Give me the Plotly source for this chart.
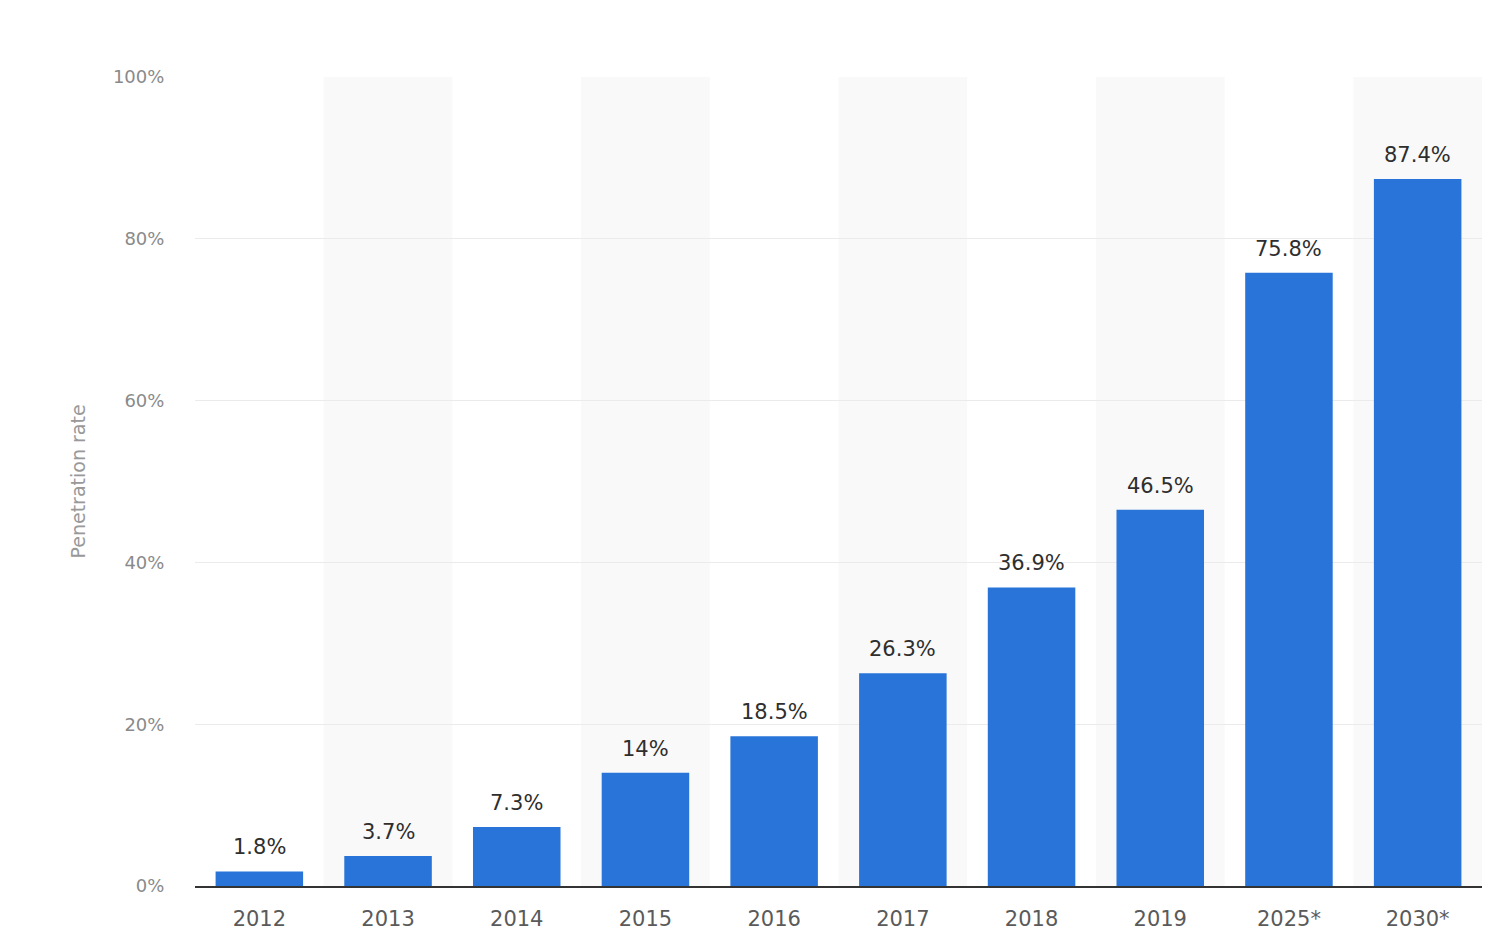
import plotly.graph_objects as go

years = ["2012", "2013", "2014", "2015", "2016", "2017", "2018", "2019", "2025*", "2030*"]
penetration = [1.8, 3.7, 7.3, 14, 18.5, 26.3, 36.9, 46.5, 75.8, 87.4]
y_ticks = [0, 20, 40, 60, 80, 100]
y_title = "Penetration rate"

FONT = "DejaVu Sans"
BAR = "#2874d8"

pos = list(range(len(years)))
labels = [f"{v:g}%" for v in penetration]

fig = go.Figure()
fig.add_trace(go.Bar(
    x=pos, y=penetration,
    width=0.68,
    marker=dict(color=BAR, line=dict(width=0)),
    hovertext=years, hoverinfo="text+y",
))

# alternating background bands
shapes = []
for i in pos:
    if i % 2 == 1:
        shapes.append(dict(type="rect", xref="x", yref="paper",
                           x0=i - 0.5, x1=i + 0.5, y0=0, y1=1,
                           fillcolor="#f9f9f9", line=dict(width=0), layer="below"))

annotations = []
for i, v, t in zip(pos, penetration, labels):
    annotations.append(dict(x=i, y=v, xref="x", yref="y",
                            text=t, showarrow=False,
                            yanchor="bottom", yshift=10,
                            font=dict(family=FONT, size=21, color="#2e2e2e")))

fig.update_layout(
    width=1500, height=949,
    margin=dict(l=187, r=26, t=69, b=71),
    paper_bgcolor="white", plot_bgcolor="white",
    showlegend=False,
    shapes=shapes,
    annotations=annotations,
    font=dict(family=FONT),
)
fig.update_xaxes(
    range=[-0.5, len(years) - 0.5],
    tickmode="array", tickvals=pos, ticktext=years,
    showline=True, linecolor="#333333", linewidth=2,
    showgrid=False, zeroline=False,
    ticks="outside", ticklen=13, tickcolor="rgba(0,0,0,0)",
    tickfont=dict(family=FONT, size=21, color="#5a5a5a"),
)
fig.update_yaxes(
    range=[0, 100],
    tickmode="array", tickvals=y_ticks, ticktext=[f"{t}%" for t in y_ticks],
    showgrid=True, gridcolor="#ebebeb", gridwidth=1,
    zeroline=False, showline=False,
    ticks="outside", ticklen=26, tickcolor="rgba(0,0,0,0)",
    tickfont=dict(family=FONT, size=18, color="#8a8a8a"),
    title=dict(text=y_title, font=dict(family=FONT, size=19, color="#999999"), standoff=22),
)

fig.write_html("out.html")
